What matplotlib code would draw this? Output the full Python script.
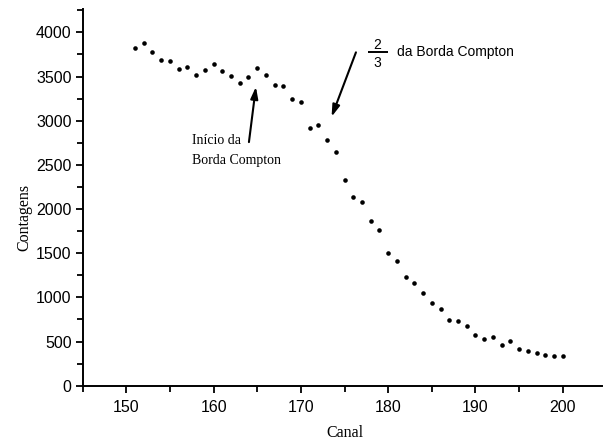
import matplotlib
matplotlib.use("Agg")
import matplotlib.pyplot as plt
from matplotlib.ticker import MultipleLocator

# ---- data ----
canal = list(range(151, 201))
contagens = [3826, 3879, 3777, 3690, 3679, 3588, 3611, 3517, 3573, 3645,
             3565, 3502, 3423, 3494, 3596, 3517, 3403, 3392, 3245, 3217,
             2913, 2947, 2787, 2645, 2328, 2141, 2077, 1864, 1762, 1499,
             1414, 1234, 1159, 1046, 939, 865, 747, 732, 679, 577,
             525, 548, 461, 506, 419, 389, 374, 347, 336, 340]

xticks = [150, 160, 170, 180, 190, 200]
yticks = [0, 500, 1000, 1500, 2000, 2500, 3000, 3500, 4000]

SANS = ["Liberation Sans", "DejaVu Sans"]
SERIF = ["Liberation Serif", "DejaVu Serif"]

fig = plt.figure(figsize=(6.03, 4.45), dpi=100)
ax = fig.add_axes([0.1371, 0.1333, 0.8612, 0.8465])

ax.plot(canal, contagens, linestyle="none", marker="o", markersize=3.3,
        color="black", markeredgewidth=0)

ax.set_xlim(145, 204.5)
ax.set_ylim(0, 4265)
ax.set_xticks(xticks)
ax.set_yticks(yticks)
ax.xaxis.set_minor_locator(MultipleLocator(5))
ax.yaxis.set_minor_locator(MultipleLocator(250))

for s in ["top", "right"]:
    ax.spines[s].set_visible(False)
for s in ["left", "bottom"]:
    ax.spines[s].set_linewidth(1.4)

ax.tick_params(axis="both", which="major", direction="out", length=5,
               width=1.3, labelsize=11.5, colors="black")
ax.tick_params(axis="both", which="minor", direction="out", length=4,
               width=1.3)
ax.tick_params(axis="y", which="major", pad=3)
ax.tick_params(axis="x", which="major", pad=5)
for lab in ax.get_xticklabels() + ax.get_yticklabels():
    lab.set_family(SANS)

fig.text(0.041, 1 - 217 / 445, "Contagens", rotation=90, ha="center",
         va="center", fontsize=11.5, family=SERIF)
fig.text(345 / 603, 1 - 433 / 445, "Canal", ha="center", va="center",
         fontsize=11.5, family=SERIF)

# annotation: inicio da borda compton
ax.text(157.49, 2781, "Início da", ha="left", va="center", fontsize=10,
        family=SERIF)
ax.text(157.49, 2555, "Borda Compton", ha="left", va="center", fontsize=10,
        family=SERIF)
ax.annotate("", xy=(164.85, 3384), xytext=(164.05, 2758),
            arrowprops=dict(arrowstyle="-|>,head_length=0.7,head_width=0.22",
                            color="black", lw=1.5, shrinkA=0, shrinkB=0))

# annotation: 2/3 da borda compton
ax.text(178.8, 3856, "2", ha="center", va="center", fontsize=10, family=SANS)
ax.text(178.8, 3649, "3", ha="center", va="center", fontsize=10, family=SANS)
ax.plot([177.65, 179.95], [3780, 3780], color="black", lw=1.4,
        solid_capstyle="butt", clip_on=False)
ax.text(180.97, 3774, "da Borda Compton", ha="left", va="center",
        fontsize=10, family=SANS)
ax.annotate("", xy=(173.52, 3045), xytext=(176.31, 3774),
            arrowprops=dict(arrowstyle="-|>,head_length=0.7,head_width=0.22",
                            color="black", lw=1.5, shrinkA=0, shrinkB=0))

fig.savefig("out.png", dpi=100)
